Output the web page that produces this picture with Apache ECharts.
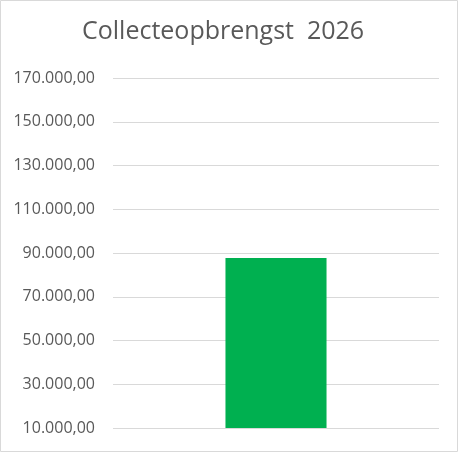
<!DOCTYPE html>
<html>
<head>
<meta charset="utf-8">
<script src="https://cdn.jsdelivr.net/npm/echarts@6/dist/echarts.min.js"></script>
<style>
  html, body { margin: 0; padding: 0; background: #fff; }
  #chart { width: 458px; height: 452px; }
</style>
</head>
<body>
<div id="chart"></div>
<script>
const categories = ["2026"];
const amounts = [87700];
const yMin = 10000;
const yMax = 170000;
const yStep = 20000;

// Dutch number format: 90.000,00
function formatNL(v) {
  const parts = v.toFixed(2).split(".");
  parts[0] = parts[0].replace(/\B(?=(\d{3})+(?!\d))/g, ".");
  return parts.join(",");
}

const chart = echarts.init(document.getElementById("chart"));

const option = {
  animation: false,
  title: {
    text: "Collecteopbrengst  2026",
    left: 77,
    top: 14,
    textStyle: {
      fontFamily: "Open Sans",
      fontSize: 25,
      fontWeight: "normal",
      color: "#595959",
    },
  },
  grid: { left: 113, right: 19, top: 78, bottom: 24 },
  xAxis: {
    type: "category",
    data: categories,
    axisLine: { show: false },
    axisTick: { show: false },
    axisLabel: { show: false },
  },
  yAxis: {
    type: "value",
    min: yMin,
    max: yMax,
    interval: yStep,
    axisLine: { show: false },
    axisTick: { show: false },
    axisLabel: {
      formatter: formatNL,
      margin: 18,
      fontFamily: "Open Sans",
      fontSize: 16,
      color: "#595959",
    },
    splitLine: { lineStyle: { color: "#d9d9d9", width: 1 } },
  },
  series: [
    {
      type: "bar",
      data: amounts,
      barWidth: "31%",
      itemStyle: { color: "#00b050" },
    },
  ],
  graphic: [
    {
      type: "rect",
      shape: { x: 0.5, y: 0.5, width: 457, height: 451 },
      style: { fill: "none", stroke: "#d9d9d9", lineWidth: 1 },
      silent: true,
    },
  ],
};

chart.setOption(option);
</script>
</body>
</html>
